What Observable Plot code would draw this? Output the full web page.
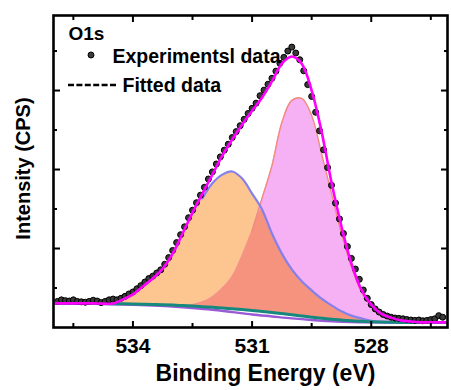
<!DOCTYPE html>
<html><head><meta charset="utf-8">
<script src="https://cdn.jsdelivr.net/npm/d3@7"></script>
<script src="https://cdn.jsdelivr.net/npm/@observablehq/plot@0.6"></script>
<style>
html,body{margin:0;padding:0;background:#fff;}
#chart{width:451px;height:390px;overflow:hidden;}
</style></head><body><div id="chart"></div>
<script>
// ---- data (binding energy in eV, intensity in arbitrary CPS units) ----
const energy = [536, 535.75, 535.5, 535.25, 535, 534.75, 534.5, 534.25, 534, 533.75, 533.5, 533.25, 533, 532.75, 532.5, 532.25, 532, 531.75, 531.5, 531.25, 531, 530.75, 530.5, 530.25, 530, 529.75, 529.5, 529.25, 529, 528.75, 528.5, 528.25, 528, 527.75, 527.5, 527.25, 527, 526.75, 526.5, 526.25, 526];
const envelope = [0.61, 0.61, 0.61, 0.61, 0.61, 0.605, 0.61, 0.71, 0.84, 1.04, 1.24, 1.49, 1.87, 2.38, 2.91, 3.39, 3.87, 4.35, 4.76, 5.14, 5.49, 5.82, 6.23, 6.68, 6.86, 6.68, 6.0, 4.96, 3.67, 2.56, 1.62, 0.96, 0.58, 0.35, 0.25, 0.18, 0.15, 0.13, 0.13, 0.13, 0.13];
const background = [0.61, 0.61, 0.609, 0.608, 0.607, 0.605, 0.602, 0.599, 0.596, 0.590, 0.583, 0.576, 0.567, 0.555, 0.543, 0.528, 0.511, 0.494, 0.473, 0.453, 0.430, 0.405, 0.380, 0.352, 0.322, 0.291, 0.261, 0.233, 0.208, 0.187, 0.170, 0.157, 0.144, 0.137, 0.132, 0.129, 0.127, 0.127, 0.127, 0.127, 0.127];
const orangePeak = [0.61, 0.61, 0.609, 0.608, 0.607, 0.605, 0.602, 0.70, 0.83, 1.03, 1.23, 1.48, 1.86, 2.37, 2.86, 3.27, 3.65, 3.87, 3.95, 3.77, 3.39, 2.99, 2.38, 1.87, 1.47, 1.17, 0.94, 0.73, 0.56, 0.41, 0.30, 0.23, 0.17, 0.14, 0.133, 0.129, 0.127, 0.127, 0.127, 0.127, 0.127];
const pinkPeak = [0.61, 0.61, 0.609, 0.608, 0.607, 0.605, 0.602, 0.599, 0.596, 0.590, 0.583, 0.576, 0.567, 0.555, 0.58, 0.65, 0.78, 1.0, 1.30, 1.83, 2.45, 3.27, 4.10, 5.19, 5.75, 5.80, 5.37, 4.40, 3.39, 2.38, 1.54, 0.91, 0.53, 0.33, 0.215, 0.165, 0.139, 0.127, 0.127, 0.127, 0.127];
const purpleEnergy = [536, 535.5, 535, 534.5, 534, 533.5, 533, 532.5, 532, 531.5, 531, 530.5, 530, 529.5, 529, 528.5, 528, 527.5, 527, 526.5, 526];
const purpleBackground = [0.60, 0.60, 0.598, 0.59, 0.575, 0.555, 0.53, 0.495, 0.45, 0.39, 0.33, 0.28, 0.23, 0.19, 0.16, 0.14, 0.13, 0.124, 0.122, 0.121, 0.12];
const expEnergy = [535.9, 535.8, 535.7, 535.6, 535.5, 535.4, 535.3, 535.2, 535.1, 535.0, 534.9, 534.8, 534.7, 534.6, 534.5, 534.4,
  534.3, 534.2, 534.1, 534.0, 533.9, 533.8, 533.7, 533.6, 533.5, 533.4, 533.3, 533.2, 533.1, 533.0, 532.9, 532.8, 532.7, 532.6, 532.5, 532.4, 532.3, 532.2, 532.1, 532.0,
  531.9, 531.8, 531.7, 531.6, 531.5, 531.4, 531.3, 531.2, 531.1, 531.0, 530.9, 530.8, 530.7, 530.6, 530.5, 530.4, 530.3, 530.2, 530.1, 530.0,
  529.9, 529.8, 529.7, 529.6, 529.5, 529.4, 529.3, 529.2, 529.1, 529.0, 528.9, 528.8, 528.7, 528.6, 528.5, 528.4, 528.3, 528.2, 528.1, 528.0,
  527.9, 527.8, 527.7, 527.6, 527.5, 527.4, 527.3, 527.2, 527.1, 527.0, 526.9, 526.8, 526.7, 526.6, 526.5, 526.4, 526.3, 526.2];
const expIntensity = [0.66, 0.70, 0.68, 0.67, 0.70, 0.66, 0.65, 0.64, 0.66, 0.69, 0.67, 0.63, 0.66, 0.70, 0.72, 0.70,
  0.74, 0.79, 0.85, 0.90, 0.98, 1.06, 1.15, 1.24, 1.30, 1.38, 1.46, 1.60, 1.77, 1.95, 2.15, 2.35, 2.55, 2.78, 2.97, 3.16, 3.35, 3.55, 3.76, 3.94,
  4.14, 4.32, 4.49, 4.64, 4.81, 4.96, 5.11, 5.27, 5.42, 5.55, 5.68, 5.87, 6.01, 6.16, 6.31, 6.49, 6.69, 6.84, 7.00, 7.10,
  6.95, 6.78, 6.50, 6.15, 5.85, 5.45, 4.98, 4.50, 4.05, 3.60, 3.15, 2.75, 2.38, 2.05, 1.75, 1.48, 1.22, 0.95, 0.74, 0.58,
  0.47, 0.39, 0.33, 0.29, 0.26, 0.24, 0.23, 0.22, 0.20, 0.19, 0.18, 0.19, 0.17, 0.18, 0.20, 0.22, 0.30, 0.26];
const xMajorTicks = [534, 531, 528];
const xMinorTicks = [535.5, 532.5, 529.5, 526.5];
const yMajorTicks = [2, 4, 6];
const yMinorTicks = [1, 3, 5, 7];
const panelLabel = "O1s";
const legendLabels = ["Experimentsl data", "Fitted data"];
const xTitle = "Binding Energy (eV)";
const yTitle = "Intensity (CPS)";

// ---- tables ----
const curves = energy.map((e, i) => ({e, env: envelope[i], bg: background[i], o: orangePeak[i], p: pinkPeak[i], ov: Math.min(orangePeak[i], pinkPeak[i])}));
const purple = purpleEnergy.map((e, i) => ({e, v: purpleBackground[i]}));
const exp = expEnergy.map((e, i) => ({e, v: expIntensity[i]}));

const font = "'Liberation Sans', Arial, Helvetica, sans-serif";
const ML = 53, MT = 15;

// legend glyphs (dot + dashed line), placed in the top-left corner of the frame
const legendGlyphs = () => {
  const g = d3.create("svg:g");
  g.append("circle").attr("cx", ML + 38).attr("cy", MT + 40).attr("r", 3)
    .attr("fill", "#3a3a3a").attr("stroke", "#000").attr("stroke-width", 1);
  g.append("line").attr("x1", ML + 15).attr("x2", ML + 65).attr("y1", MT + 70).attr("y2", MT + 70)
    .attr("stroke", "#000").attr("stroke-width", 2.6).attr("stroke-dasharray", "6,2.4");
  return g.node();
};

const tickOpts = (size) => ({tickSize: size, tickFormat: () => "", label: null, strokeWidth: 2, stroke: "#000"});
const txt = {fontWeight: "bold", fill: "#000", lineAnchor: "middle"};

const chart = Plot.plot({
  width: 451,
  height: 390,
  marginLeft: ML,
  marginRight: 4,
  marginTop: MT,
  marginBottom: 63,
  style: {fontFamily: font, fontWeight: "bold", color: "#000", background: "#fff"},
  x: {domain: [536, 526.08], label: null},
  y: {domain: [0, 7.9], label: null},
  marks: [
    Plot.areaY(curves, {x: "e", y1: "bg", y2: "o", fill: "#fdc590", curve: "catmull-rom", clip: true}),
    Plot.areaY(curves, {x: "e", y1: "bg", y2: "p", fill: "#f6b0f4", curve: "catmull-rom", clip: true}),
    Plot.areaY(curves, {x: "e", y1: "bg", y2: "ov", fill: "#f5937f", curve: "catmull-rom", clip: true}),
    Plot.line(curves.filter(d => d.e <= 531), {x: "e", y: "p", stroke: "#f08a7a", strokeWidth: 1.4, curve: "catmull-rom", clip: true}),
    Plot.line(curves.filter(d => d.e <= 532.25), {x: "e", y: "o", stroke: "#8580ec", strokeWidth: 2.2, curve: "catmull-rom", clip: true}),
    Plot.line(purple, {x: "e", y: "v", stroke: "#9a5ad6", strokeWidth: 2.4, curve: "catmull-rom", clip: true}),
    Plot.line(curves, {x: "e", y: "bg", stroke: "#16897f", strokeWidth: 3, curve: "catmull-rom", clip: true}),
    Plot.dot(exp, {x: "e", y: "v", r: 3, fill: "#3a3a3a", stroke: "#000", strokeWidth: 1, clip: true}),
    Plot.line(curves, {x: "e", y: "env", stroke: "#ff00ff", strokeWidth: 2.6, curve: "catmull-rom", clip: true}),
    Plot.frame({stroke: "#000", strokeWidth: 2.6}),
    // inward ticks on all four sides
    Plot.axisX(xMajorTicks, {anchor: "bottom", ...tickOpts(-6)}),
    Plot.axisX(xMinorTicks, {anchor: "bottom", ...tickOpts(-4)}),
    Plot.axisX(xMajorTicks, {anchor: "top", ...tickOpts(-6)}),
    Plot.axisX(xMinorTicks, {anchor: "top", ...tickOpts(-4)}),
    Plot.axisY(yMajorTicks, {anchor: "left", ...tickOpts(-7)}),
    Plot.axisY(yMinorTicks, {anchor: "left", ...tickOpts(-4)}),
    Plot.axisY(yMajorTicks, {anchor: "right", ...tickOpts(-7)}),
    Plot.axisY(yMinorTicks, {anchor: "right", ...tickOpts(-4)}),
    // tick labels
    Plot.axisX(xMajorTicks, {anchor: "bottom", tickSize: 0, tickPadding: 11, fontSize: 21, fontWeight: "bold", label: null}),
    // titles
    Plot.text([xTitle], {frameAnchor: "bottom", dx: 15, dy: 46, fontSize: 23, textAnchor: "middle", ...txt}),
    Plot.text([yTitle], {frameAnchor: "left", dx: -30, dy: -3, rotate: -90, fontSize: 20, textAnchor: "middle", ...txt}),
    // legend
    Plot.text([panelLabel], {frameAnchor: "top-left", dx: 15, dy: 18, textAnchor: "start", fontSize: 19, ...txt}),
    Plot.text([legendLabels[0]], {frameAnchor: "top-left", dx: 59, dy: 41, textAnchor: "start", fontSize: 19.5, ...txt}),
    Plot.text([legendLabels[1]], {frameAnchor: "top-left", dx: 69, dy: 70, textAnchor: "start", fontSize: 19.5, ...txt}),
    legendGlyphs
  ]
});
document.getElementById("chart").appendChild(chart);
</script>
</body></html>
